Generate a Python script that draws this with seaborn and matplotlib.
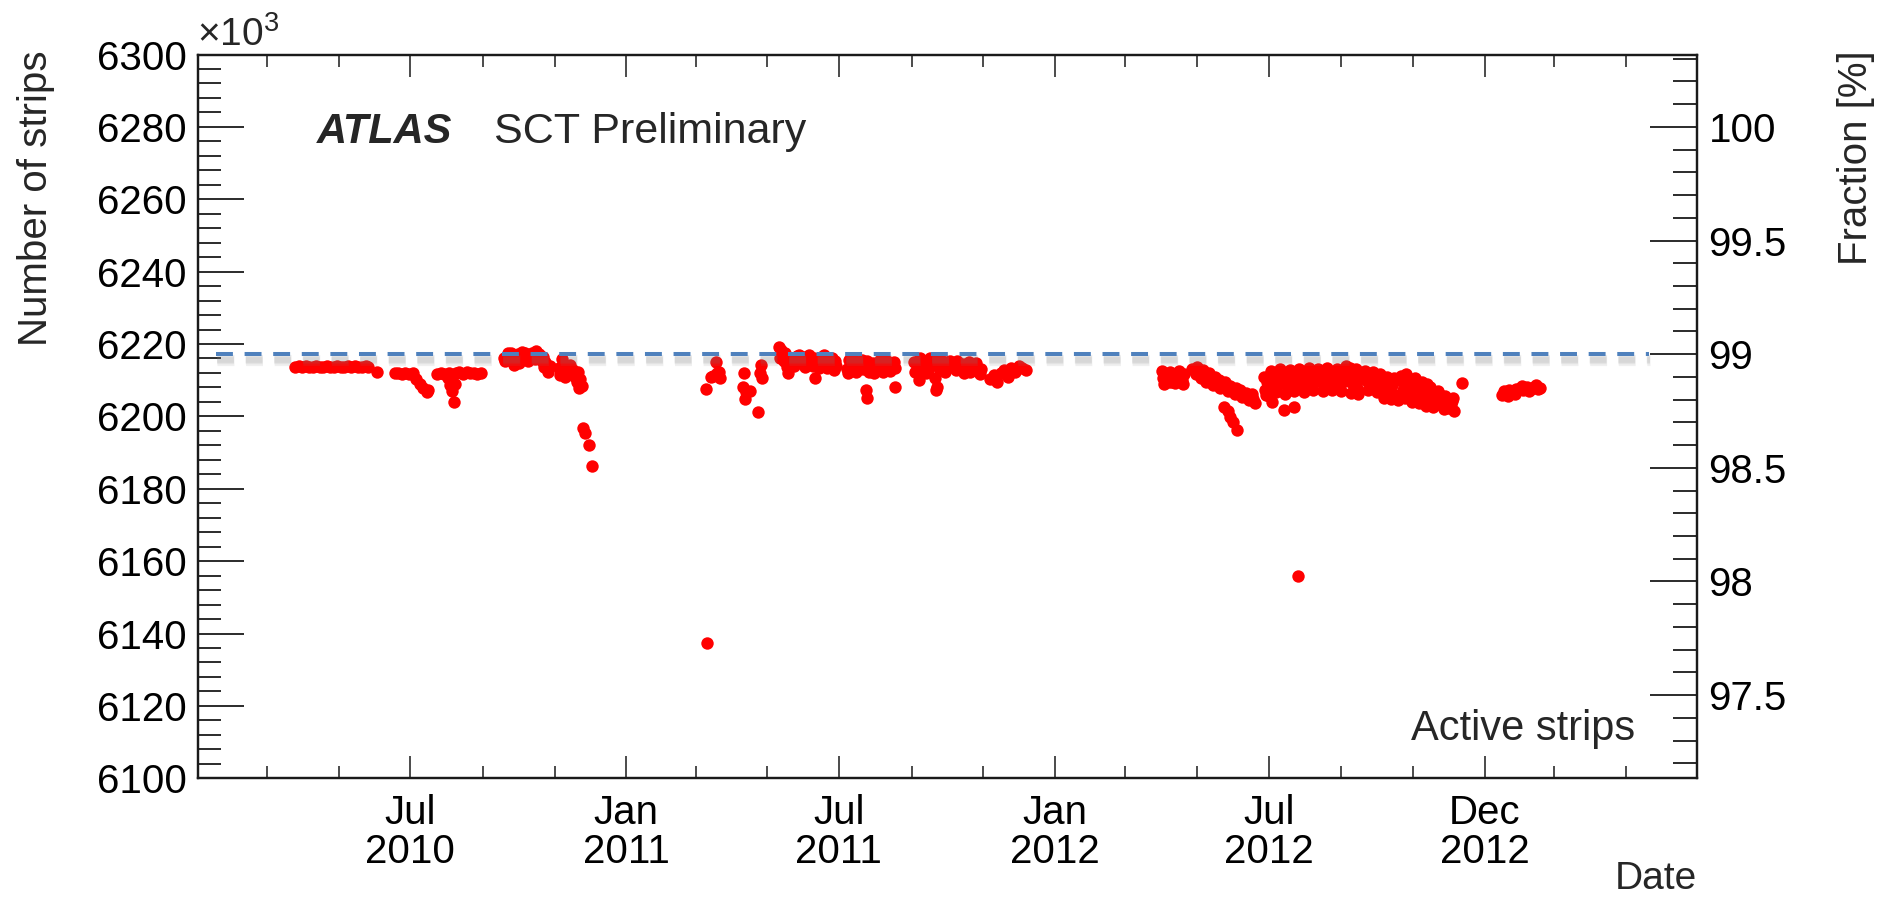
import pandas as pd
import matplotlib
matplotlib.use("Agg")
import matplotlib.pyplot as plt
import matplotlib.patheffects as pe
from matplotlib.ticker import MultipleLocator, FormatStrFormatter
import seaborn as sns

# Active SCT strips (x10^3) per run date
run_2010 = [
    ("2010-03-25", 6213.6), ("2010-03-28", 6213.8), ("2010-03-31", 6213.7), ("2010-04-03", 6213.9),
    ("2010-04-06", 6213.6), ("2010-04-09", 6213.7), ("2010-04-12", 6213.8), ("2010-04-15", 6213.6),
    ("2010-04-18", 6213.7), ("2010-04-21", 6213.9), ("2010-04-24", 6213.7), ("2010-04-27", 6213.6),
    ("2010-04-30", 6213.8), ("2010-05-03", 6213.7), ("2010-05-06", 6213.6), ("2010-05-09", 6213.8),
    ("2010-05-12", 6213.7), ("2010-05-15", 6213.9), ("2010-05-18", 6213.6), ("2010-05-21", 6213.7),
    ("2010-05-24", 6213.8), ("2010-05-26", 6213.6),
    ("2010-06-03", 6212.3),
    ("2010-06-18", 6211.9), ("2010-06-21", 6212.1), ("2010-06-24", 6211.8), ("2010-06-27", 6212.0),
    ("2010-06-30", 6211.7), ("2010-07-03", 6211.9), ("2010-07-06", 6210.3), ("2010-07-09", 6209.0),
    ("2010-07-12", 6207.8), ("2010-07-15", 6206.8), ("2010-07-16", 6207.2),
    ("2010-07-24", 6211.8), ("2010-07-27", 6212.0), ("2010-07-30", 6211.6), ("2010-08-02", 6210.5),
    ("2010-08-04", 6208.7), ("2010-08-06", 6206.9), ("2010-08-07", 6204.1), ("2010-08-08", 6209.0),
    ("2010-08-09", 6211.9), ("2010-08-12", 6212.4), ("2010-08-15", 6211.8), ("2010-08-18", 6212.3),
    ("2010-08-21", 6211.9), ("2010-08-24", 6212.1), ("2010-08-27", 6211.6), ("2010-08-30", 6211.9),
    ("2010-08-03", 6212.0), ("2010-08-05", 6211.3),
    ("2010-09-19", 6216.0), ("2010-09-22", 6217.4), ("2010-09-25", 6217.6), ("2010-09-28", 6216.9),
    ("2010-10-01", 6217.2), ("2010-10-04", 6217.8), ("2010-10-07", 6217.5), ("2010-10-10", 6217.0),
    ("2010-10-13", 6217.6), ("2010-10-16", 6218.1), ("2010-10-19", 6217.3), ("2010-10-22", 6216.4),
    ("2010-09-27", 6214.3), ("2010-10-02", 6214.8), ("2010-10-24", 6215.0), ("2010-10-23", 6213.6),
    ("2010-10-26", 6212.4), ("2010-10-28", 6213.8),
    ("2010-09-20", 6215.2), ("2010-09-24", 6216.3), ("2010-09-30", 6215.6), ("2010-10-05", 6216.1),
    ("2010-10-09", 6215.4), ("2010-10-12", 6216.6), ("2010-10-15", 6215.9), ("2010-10-18", 6216.8),
    ("2010-10-21", 6215.3),
    ("2010-11-05", 6213.4), ("2010-11-07", 6215.9), ("2010-11-09", 6214.2), ("2010-11-11", 6212.6),
    ("2010-11-13", 6213.0), ("2010-11-15", 6212.2), ("2010-11-17", 6212.8), ("2010-11-19", 6211.9),
    ("2010-11-21", 6212.4), ("2010-11-23", 6210.3), ("2010-11-24", 6208.4), ("2010-11-22", 6207.9),
    ("2010-11-06", 6211.5), ("2010-11-10", 6210.8), ("2010-11-14", 6214.3), ("2010-11-18", 6210.9),
    ("2010-11-20", 6209.6),
    ("2010-11-25", 6196.7), ("2010-11-27", 6195.3), ("2010-11-30", 6192.1), ("2010-12-03", 6186.3),
]

run_2011 = [
    ("2011-03-10", 6207.7), ("2011-03-14", 6210.9), ("2011-03-16", 6211.3), ("2011-03-19", 6211.9),
    ("2011-03-18", 6215.1), ("2011-03-21", 6212.3), ("2011-03-22", 6210.6), ("2011-03-11", 6137.4),
    ("2011-04-11", 6211.9), ("2011-04-10", 6208.2), ("2011-04-13", 6206.8), ("2011-04-16", 6207.0),
    ("2011-04-12", 6204.7), ("2011-04-23", 6201.3), ("2011-04-26", 6214.2), ("2011-04-27", 6210.5),
    ("2011-04-25", 6212.0),
    ("2011-05-11", 6219.2), ("2011-05-13", 6218.3), ("2011-05-16", 6217.4), ("2011-05-18", 6213.7),
    ("2011-05-19", 6211.9), ("2011-05-22", 6216.2), ("2011-05-26", 6216.8), ("2011-05-29", 6215.9),
    ("2011-06-01", 6216.5), ("2011-06-04", 6214.6), ("2011-06-07", 6215.8), ("2011-06-10", 6216.2),
    ("2011-06-13", 6215.0), ("2011-06-16", 6216.4), ("2011-06-19", 6214.8), ("2011-06-22", 6215.6),
    ("2011-06-25", 6216.0), ("2011-06-29", 6213.9), ("2011-06-11", 6210.5), ("2011-06-27", 6212.8),
    ("2011-05-12", 6216.0), ("2011-05-15", 6215.2), ("2011-05-20", 6214.6), ("2011-05-24", 6213.9),
    ("2011-05-28", 6217.1), ("2011-06-02", 6213.6), ("2011-06-06", 6217.0), ("2011-06-09", 6214.0),
    ("2011-06-14", 6213.5), ("2011-06-18", 6216.9), ("2011-06-21", 6213.3), ("2011-06-24", 6214.3),
    ("2011-06-28", 6215.2),
    ("2011-07-08", 6213.2), ("2011-07-10", 6215.6), ("2011-07-13", 6214.0), ("2011-07-16", 6212.4),
    ("2011-07-19", 6214.6), ("2011-07-22", 6213.0), ("2011-07-25", 6215.3), ("2011-07-28", 6213.6),
    ("2011-07-31", 6212.1), ("2011-08-03", 6214.2), ("2011-08-06", 6213.1), ("2011-08-09", 6215.0),
    ("2011-08-12", 6213.8), ("2011-08-15", 6214.6), ("2011-08-18", 6213.5), ("2011-07-24", 6207.3),
    ("2011-07-25", 6205.0), ("2011-08-18", 6208.2),
    ("2011-07-09", 6212.0), ("2011-07-12", 6216.0), ("2011-07-15", 6214.9), ("2011-07-18", 6213.3),
    ("2011-07-21", 6215.5), ("2011-07-27", 6212.2), ("2011-07-30", 6214.8), ("2011-08-02", 6212.6),
    ("2011-08-05", 6215.5), ("2011-08-08", 6212.3), ("2011-08-11", 6215.2), ("2011-08-14", 6212.5),
    ("2011-08-17", 6215.0),
    ("2011-09-03", 6214.9), ("2011-09-06", 6213.0), ("2011-09-09", 6215.6), ("2011-09-12", 6214.2),
    ("2011-09-15", 6212.8), ("2011-09-18", 6214.6), ("2011-09-21", 6215.3), ("2011-09-24", 6213.5),
    ("2011-09-27", 6214.0), ("2011-09-30", 6215.1), ("2011-10-03", 6213.6), ("2011-10-06", 6214.4),
    ("2011-10-09", 6212.9), ("2011-10-12", 6213.8), ("2011-10-15", 6214.6), ("2011-10-18", 6213.3),
    ("2011-10-21", 6212.4), ("2011-10-24", 6213.7), ("2011-10-27", 6212.5), ("2011-10-30", 6213.0),
    ("2011-09-07", 6210.0), ("2011-09-21", 6210.5), ("2011-09-22", 6207.2), ("2011-09-23", 6208.0),
    ("2011-09-04", 6212.2), ("2011-09-08", 6216.0), ("2011-09-13", 6212.0), ("2011-09-17", 6216.2),
    ("2011-09-25", 6215.8), ("2011-09-29", 6212.3), ("2011-10-04", 6215.3), ("2011-10-10", 6215.4),
    ("2011-10-16", 6212.0), ("2011-10-20", 6214.9), ("2011-10-26", 6214.8), ("2011-10-29", 6211.6),
    ("2011-11-07", 6210.4), ("2011-11-10", 6211.5), ("2011-11-13", 6209.6), ("2011-11-16", 6212.1),
    ("2011-11-19", 6212.9), ("2011-11-22", 6211.0), ("2011-11-25", 6213.4), ("2011-11-28", 6212.2),
    ("2011-12-01", 6213.8), ("2011-12-04", 6213.3), ("2011-12-07", 6212.8),
]

run_2012 = [
    ("2012-04-01", 6212.6), ("2012-04-03", 6209.0), ("2012-04-05", 6211.2), ("2012-04-08", 6212.4),
    ("2012-04-10", 6209.6), ("2012-04-13", 6211.7), ("2012-04-16", 6212.5), ("2012-04-18", 6210.1),
    ("2012-04-20", 6211.8), ("2012-04-02", 6210.5), ("2012-04-07", 6209.6), ("2012-04-12", 6209.3),
    ("2012-04-15", 6210.4), ("2012-04-19", 6208.9),
    ("2012-04-27", 6213.2), ("2012-04-30", 6211.8), ("2012-05-02", 6212.4), ("2012-05-04", 6210.6),
    ("2012-05-07", 6211.2), ("2012-05-09", 6209.5), ("2012-05-12", 6210.3), ("2012-05-15", 6208.7),
    ("2012-05-18", 6209.4), ("2012-05-21", 6207.9), ("2012-05-24", 6208.3), ("2012-05-27", 6206.9),
    ("2012-05-30", 6207.6), ("2012-06-02", 6206.2), ("2012-06-05", 6206.8), ("2012-06-08", 6205.3),
    ("2012-06-11", 6205.9), ("2012-06-14", 6204.6), ("2012-06-16", 6205.4), ("2012-06-19", 6203.7),
    ("2012-06-18", 6204.8),
    ("2012-05-01", 6213.6), ("2012-05-06", 6212.8), ("2012-05-11", 6211.9), ("2012-05-16", 6210.9),
    ("2012-05-20", 6210.0), ("2012-05-25", 6209.4), ("2012-05-29", 6208.4), ("2012-06-03", 6207.9),
    ("2012-06-07", 6207.2), ("2012-06-12", 6206.6), ("2012-06-17", 6206.2),
    ("2012-05-24", 6202.6), ("2012-05-27", 6201.4), ("2012-05-29", 6199.9), ("2012-06-01", 6198.5),
    ("2012-06-04", 6196.2),
    ("2012-06-27", 6210.8), ("2012-06-28", 6207.4), ("2012-06-30", 6209.6), ("2012-07-02", 6211.5),
    ("2012-07-04", 6208.3), ("2012-07-06", 6210.2), ("2012-07-08", 6212.0), ("2012-07-10", 6208.9),
    ("2012-07-12", 6210.7), ("2012-07-14", 6209.1), ("2012-07-16", 6211.4), ("2012-07-18", 6208.0),
    ("2012-07-20", 6210.3), ("2012-07-22", 6212.1), ("2012-07-24", 6209.0), ("2012-07-26", 6210.9),
    ("2012-07-28", 6208.5), ("2012-07-30", 6211.7), ("2012-08-01", 6209.6), ("2012-08-03", 6212.3),
    ("2012-08-05", 6210.1), ("2012-08-07", 6208.7), ("2012-08-09", 6211.2), ("2012-08-11", 6209.8),
    ("2012-08-13", 6212.5), ("2012-08-15", 6210.4), ("2012-08-17", 6208.9), ("2012-08-19", 6211.8),
    ("2012-08-21", 6210.0), ("2012-08-23", 6212.2), ("2012-08-25", 6209.4), ("2012-08-27", 6211.5),
    ("2012-08-29", 6208.8), ("2012-08-31", 6210.9), ("2012-09-02", 6212.6), ("2012-09-04", 6209.7),
    ("2012-09-06", 6211.3), ("2012-09-08", 6213.4), ("2012-09-10", 6209.2), ("2012-09-12", 6211.0),
    ("2012-09-14", 6207.9), ("2012-09-16", 6210.4), ("2012-09-17", 6212.0),
    ("2012-06-29", 6206.0), ("2012-07-01", 6205.7), ("2012-07-03", 6212.5), ("2012-07-07", 6206.8),
    ("2012-07-11", 6213.0), ("2012-07-15", 6206.3), ("2012-07-19", 6212.8), ("2012-07-23", 6207.0),
    ("2012-07-27", 6213.2), ("2012-07-31", 6206.8), ("2012-08-04", 6213.4), ("2012-08-08", 6207.2),
    ("2012-08-12", 6213.0), ("2012-08-16", 6206.9), ("2012-08-20", 6213.5), ("2012-08-24", 6207.4),
    ("2012-08-28", 6213.1), ("2012-09-01", 6207.0), ("2012-09-05", 6213.8), ("2012-09-09", 6206.6),
    ("2012-09-13", 6213.2), ("2012-09-15", 6206.2),
    ("2012-07-04", 6204.0), ("2012-07-14", 6201.7), ("2012-07-23", 6202.6), ("2012-07-26", 6155.9),
    ("2012-09-20", 6211.6), ("2012-09-23", 6209.8), ("2012-09-26", 6211.0), ("2012-09-29", 6208.4),
    ("2012-10-02", 6210.2), ("2012-10-05", 6207.5), ("2012-10-08", 6209.4), ("2012-10-11", 6206.6),
    ("2012-10-14", 6208.7), ("2012-10-17", 6206.0), ("2012-10-20", 6210.0), ("2012-10-23", 6207.2),
    ("2012-10-26", 6211.6), ("2012-10-29", 6205.9), ("2012-11-01", 6208.2), ("2012-11-04", 6204.8),
    ("2012-11-07", 6207.6), ("2012-11-10", 6205.3), ("2012-11-13", 6209.0), ("2012-11-16", 6206.2),
    ("2012-11-19", 6204.3), ("2012-11-22", 6207.1), ("2012-11-25", 6203.2), ("2012-11-28", 6205.6),
    ("2012-12-01", 6202.4), ("2012-12-04", 6204.2), ("2012-12-06", 6201.6), ("2012-12-13", 6209.1),
    ("2012-09-21", 6212.6), ("2012-09-24", 6207.4), ("2012-09-28", 6212.2), ("2012-10-01", 6206.8),
    ("2012-10-04", 6211.8), ("2012-10-07", 6205.2), ("2012-10-10", 6211.0), ("2012-10-13", 6204.9),
    ("2012-10-16", 6210.6), ("2012-10-19", 6204.6), ("2012-10-22", 6211.1), ("2012-10-25", 6205.0),
    ("2012-10-28", 6208.9), ("2012-10-31", 6203.9), ("2012-11-03", 6210.5), ("2012-11-06", 6203.6),
    ("2012-11-09", 6209.6), ("2012-11-12", 6203.0), ("2012-11-15", 6208.0), ("2012-11-18", 6202.6),
    ("2012-11-21", 6205.0), ("2012-11-24", 6206.0), ("2012-11-27", 6202.0), ("2012-11-30", 6204.8),
    ("2012-12-03", 6203.4), ("2012-12-05", 6205.2),
]

run_2013 = [
    ("2013-01-16", 6205.9), ("2013-01-19", 6206.4), ("2013-01-22", 6207.2), ("2013-01-25", 6206.8),
    ("2013-01-28", 6207.5), ("2013-01-31", 6207.9), ("2013-02-03", 6207.3), ("2013-02-06", 6208.0),
    ("2013-02-09", 6207.6), ("2013-02-12", 6208.1), ("2013-02-15", 6207.7), ("2013-02-17", 6207.9),
    ("2013-01-17", 6207.0), ("2013-01-21", 6205.6), ("2013-01-27", 6206.3), ("2013-02-02", 6208.4),
    ("2013-02-08", 6206.9), ("2013-02-14", 6208.6),
]

TOTAL_STRIPS = 6280.0      # x10^3, defines the fraction scale
REFERENCE_FRACTION = 99.0  # percent, dashed reference line

date_ticks = ["2010-07-01", "2011-01-01", "2011-07-01", "2012-01-01", "2012-07-01", "2013-01-01"]
date_labels = ["Jul\n2010", "Jan\n2011", "Jul\n2011", "Jan\n2012", "Jul\n2012", "Dec\n2012"]
date_minor = ["2010-03-01", "2010-05-01", "2010-09-01", "2010-11-01", "2011-03-01", "2011-05-01",
              "2011-09-01", "2011-11-01", "2012-03-01", "2012-05-01", "2012-09-01", "2012-11-01",
              "2013-03-01", "2013-05-01"]

rows = run_2010 + run_2011 + run_2012 + run_2013
df = pd.DataFrame(rows, columns=["date", "strips"])
df["date"] = pd.to_datetime(df["date"])

sns.set_theme(style="ticks")
plt.rcParams["font.family"] = ["Liberation Sans", "DejaVu Sans"]
plt.rcParams["mathtext.fontset"] = "custom"
plt.rcParams["mathtext.rm"] = "Liberation Sans"
plt.rcParams["mathtext.it"] = "Liberation Sans:italic"
plt.rcParams["mathtext.bf"] = "Liberation Sans:bold"

INK = "#1a1a1a"
fig = plt.figure(figsize=(18.81, 9.0), dpi=100)
ax = fig.add_axes([0.10505, 0.13522, 0.79729, 0.80422])

sns.scatterplot(data=df, x="date", y="strips", ax=ax, color="#ff0000", s=80,
                marker="o", linewidth=0, legend=False, zorder=3)

ax.set_xlim(pd.Timestamp("2010-01-01"), pd.Timestamp("2013-07-01"))
ax.set_ylim(6100, 6300)
ax.set_xlabel("")
ax.set_ylabel("")

# dashed 99% reference line with a soft drop shadow
ref_level = TOTAL_STRIPS * REFERENCE_FRACTION / 100.0
shadow = [pe.SimpleLineShadow(offset=(0.8, -4.5), shadow_color="#7a7a7a", alpha=0.11, linewidth=w)
          for w in (8.0, 6.0, 4.0)]
ax.axhline(ref_level, xmin=0.012, xmax=0.968, color="#4f81bd", lw=2.9, dashes=(4.2, 2.9),
           zorder=5, path_effects=shadow + [pe.Normal()])

ax.yaxis.set_major_locator(MultipleLocator(20))
ax.yaxis.set_minor_locator(MultipleLocator(4))
ax.yaxis.set_major_formatter(FormatStrFormatter("%d"))
ax.set_xticks(pd.to_datetime(date_ticks))
ax.set_xticklabels(date_labels)
ax.set_xticks(pd.to_datetime(date_minor), minor=True)
for lbl in ax.get_xticklabels():
    lbl.set_linespacing(1.05)

ax.tick_params(axis="y", which="both", direction="in", left=True, right=False,
               labelsize=29, pad=8, color=INK, labelcolor="black")
ax.tick_params(axis="y", which="major", length=33, width=1.3)
ax.tick_params(axis="y", which="minor", length=16.5, width=1.3)
ax.tick_params(axis="x", which="both", direction="in", top=True, bottom=True,
               labelsize=29, pad=11, color=INK, labelcolor="black")
ax.tick_params(axis="x", which="major", length=15.5, width=1.1)
ax.tick_params(axis="x", which="minor", length=8.5, width=1.1)

ax2 = ax.twinx()
ax2.set_ylim(6100 / TOTAL_STRIPS * 100, 6300 / TOTAL_STRIPS * 100)
ax2.yaxis.set_major_locator(MultipleLocator(0.5))
ax2.yaxis.set_minor_locator(MultipleLocator(0.1))
ax2.yaxis.set_major_formatter(FormatStrFormatter("%g"))
ax2.tick_params(axis="y", which="both", direction="in", right=True, left=False,
                labelsize=29, pad=8, color=INK, labelcolor="black")
ax2.tick_params(axis="y", which="major", length=34, width=1.3)
ax2.tick_params(axis="y", which="minor", length=17, width=1.3)
ax2.set_ylabel("")

for a in (ax, ax2):
    for sp in a.spines.values():
        sp.set_visible(True)
        sp.set_linewidth(1.6)
        sp.set_color(INK)

# axis titles and annotations
fig.text(36 / 1881, 1 - 50 / 900, "Number of strips", rotation=90, ha="center", va="top", fontsize=29)
fig.text(1856 / 1881, 1 - 50 / 900, "Fraction [%]", rotation=90, ha="center", va="top", fontsize=29)
fig.text(1697 / 1881, 1 - 889 / 900, "Date", ha="right", va="baseline", fontsize=28)
fig.text(197 / 1881, 1 - 46 / 900, "×10$^{3}$", ha="left", va="baseline", fontsize=28)
fig.text(317 / 1881, 1 - 143 / 900, "ATLAS", ha="left", va="baseline", fontsize=30,
         fontweight="bold", fontstyle="italic")
fig.text(494 / 1881, 1 - 143 / 900, "SCT Preliminary", ha="left", va="baseline", fontsize=31)
fig.text(1635 / 1881, 1 - 740 / 900, "Active strips", ha="right", va="baseline", fontsize=30)

fig.savefig("out.png", dpi=100)
